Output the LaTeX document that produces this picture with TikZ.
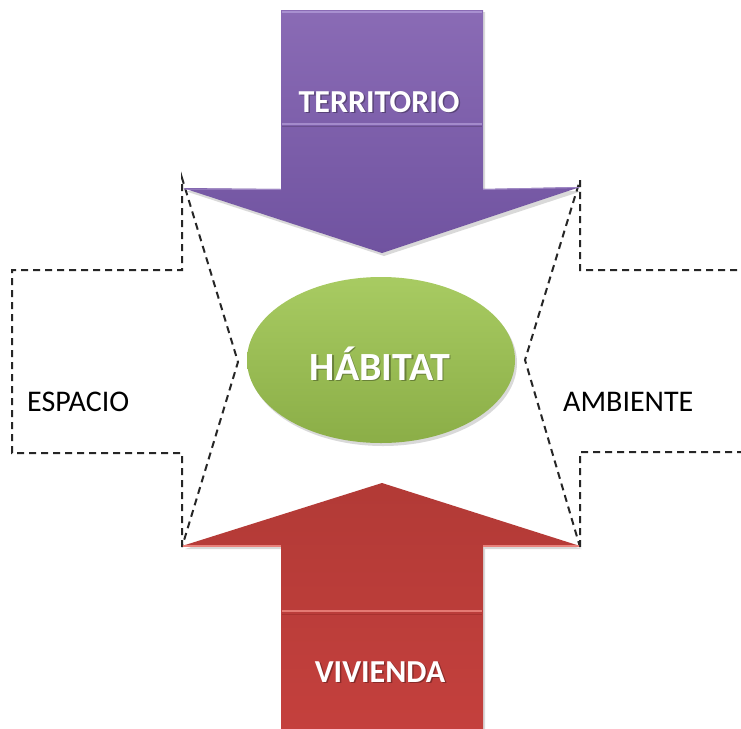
\documentclass[tikz,border=0pt]{standalone}
\usepackage{fontspec}
\setmainfont{Carlito}
\definecolor{purpA}{HTML}{8A6BB5}
\definecolor{purpB}{HTML}{7F60A9}
\definecolor{purpC}{HTML}{7053A0}
\definecolor{purpHi}{HTML}{A890D0}
\definecolor{purpHi2}{HTML}{A48BCB}
\definecolor{purpLo}{HTML}{6A4F8E}
\definecolor{purpEdge}{HTML}{9E86C4}
\definecolor{redA}{HTML}{B23A36}
\definecolor{redB}{HTML}{D44A45}
\definecolor{redC}{HTML}{C4403D}
\definecolor{redHi}{HTML}{E8807A}
\definecolor{redHi2}{HTML}{E47A73}
\definecolor{redLo}{HTML}{A8322F}
\definecolor{greenA}{HTML}{A8CB62}
\definecolor{greenB}{HTML}{8BAE47}
\begin{document}
\begin{tikzpicture}[x=1pt,y=-1pt,
  dashline/.style={draw=black!85, line width=2pt, dash pattern=on 7pt off 5pt, line join=miter},
  plainlbl/.style={font=\fontsize{30}{36}\selectfont, text=black, inner sep=0pt},
  whitelbl/.style={font=\bfseries\fontsize{32}{38}\selectfont, text=white, inner sep=0pt},
  biglbl/.style={font=\bfseries\fontsize{40}{48}\selectfont, text=white, inner sep=0pt},
  txtshadow/.style={text=black, opacity=0.3},
  shapeshadow/.style={fill=black, opacity=0.15}
]
\useasboundingbox (0,0) rectangle (741,728);
\clip (0,0) rectangle (741,728);
\fill[white] (0,0) rectangle (741,728);

% dashed arrows
\draw[dashline] (182,547) -- (182,453) -- (12,453) -- (12,270) -- (182,270) -- (182,178) -- (238,362) -- cycle;
\draw[dashline] (580,547) -- (580,452) -- (760,452) -- (760,270) -- (580,270) -- (580,180) -- (525,360) -- cycle;

% shadows of solid arrows
\fill[shapeshadow] (283,12) -- (485,12) -- (485,191) -- (582,191) -- (384,256) -- (185,191) -- (283,191) -- cycle;
\fill[shapeshadow] (384,486) -- (582,549) -- (485,549) -- (485,740) -- (283,740) -- (283,549) -- (185,549) -- cycle;

% top purple arrow
\shade[top color=purpA, middle color=purpB, bottom color=purpC]
  (281,10) -- (483,10) -- (483,189) -- (580,187) -- (382,253) -- (183,188) -- (281,189) -- cycle;
\draw[line width=2pt, draw=purpHi] (282,11.5) -- (482,11.5);
\draw[line width=2pt, draw=purpHi2] (282,124) -- (482,124);
\draw[line width=1pt, draw=purpLo] (282,126.5) -- (482,126.5);
\draw[line width=1pt, draw=purpEdge] (184,189) -- (281,189.5);
\draw[line width=1pt, draw=purpEdge] (483,189.5) -- (579,187.5);

% bottom red arrow
\shade[top color=redA, middle color=redB, bottom color=redC]
  (382,483) -- (580,546) -- (483,546) -- (483,730) -- (281,730) -- (281,546) -- (182,546) -- cycle;
\draw[line width=2pt, draw=redHi] (183,545.5) -- (281,545.5);
\draw[line width=2pt, draw=redHi] (483,545.5) -- (579,545.5);
\draw[line width=2.5pt, draw=redHi2] (282,611) -- (482,611);
\draw[line width=1pt, draw=redLo] (282,614) -- (482,614);

% green ellipse
\fill[black, opacity=0.15] (383,363) ellipse (134pt and 83pt);
\shade[top color=greenA, bottom color=greenB] (381,360) ellipse (134pt and 83pt);

% labels
\node[whitelbl, txtshadow, anchor=base] (territorioS) at (380.5,113.5) {TERRITORIO};
\node[whitelbl, anchor=base] (territorio) at (379,112) {TERRITORIO};
\node[whitelbl, txtshadow, anchor=base] (viviendaS) at (381.5,683.5) {VIVIENDA};
\node[whitelbl, anchor=base] (vivienda) at (380,682) {VIVIENDA};
\node[biglbl, txtshadow, anchor=base] (habitatS) at (381.5,381.5) {HÁBITAT};
\node[biglbl, anchor=base] (habitat) at (380,380) {HÁBITAT};
\node[plainlbl, anchor=base west] (espacio) at (27,411) {ESPACIO};
\node[plainlbl, anchor=base west] (ambiente) at (563,411) {AMBIENTE};
\end{tikzpicture}
\end{document}
